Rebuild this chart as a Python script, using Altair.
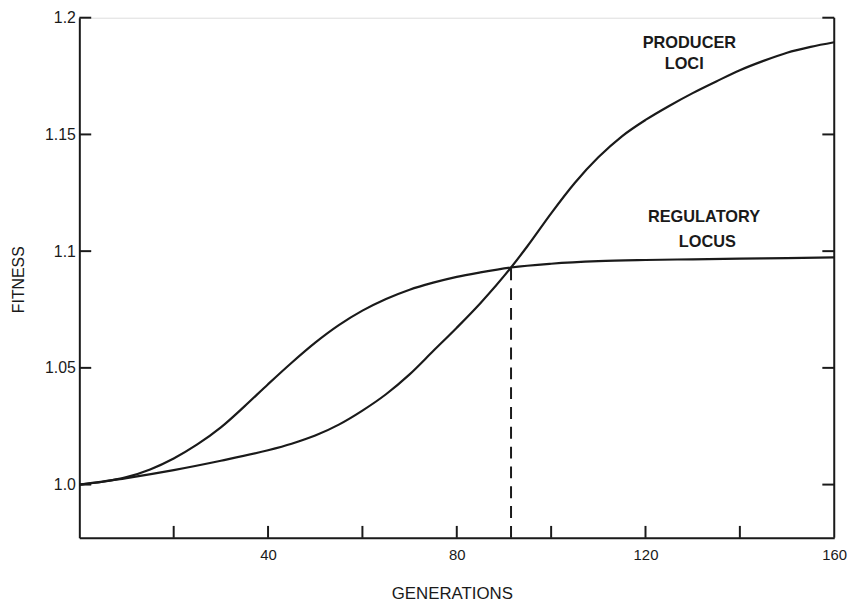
import altair as alt
import pandas as pd

# ---- data ----
reg_gen = [0, 5, 10, 15, 20, 25, 30, 35, 40, 45, 50, 55, 60, 65, 70, 75, 80, 85, 91.5,
           100, 110, 120, 130, 140, 150, 160]
reg_fit = [1.000, 1.0012, 1.0032, 1.0065, 1.0112, 1.0172, 1.0245, 1.0335, 1.043, 1.0522,
           1.0608, 1.0683, 1.0745, 1.0795, 1.0835, 1.0865, 1.089, 1.0909, 1.093,
           1.0946, 1.0957, 1.0962, 1.0965, 1.0968, 1.097, 1.0973]

prod_gen = [0, 10, 20, 30, 40, 45, 50, 55, 60, 65, 70, 75, 80, 85, 91.5, 95,
            100, 105, 110, 115, 120, 125, 130, 135, 140, 145, 150, 155, 160]
prod_fit = [1.000, 1.0028, 1.0062, 1.0102, 1.0147, 1.0175, 1.021, 1.0257, 1.0317,
            1.0387, 1.0472, 1.0572, 1.0672, 1.0777, 1.093, 1.1022,
            1.1162, 1.1292, 1.1402, 1.1492, 1.1562, 1.1622, 1.1677, 1.1727, 1.1775,
            1.1815, 1.185, 1.1875, 1.1895]

x_label_values = [40, 80, 120, 160]
x_tick_values = [20, 40, 60, 80, 100, 120, 140]
y_tick_values = [1.0, 1.05, 1.1, 1.15, 1.2]
x_domain = [0, 160]
y_domain = [0.9772, 1.2]

crossing_gen = 91.5
crossing_fit = 1.093

label_text = ["PRODUCER", "LOCI", "REGULATORY", "LOCUS"]
label_gen = [129.3, 128.2, 132.4, 133.1]
label_fit = [1.1892, 1.1803, 1.1145, 1.1039]

# ---- styling ----
INK = "#1a1a1a"
FONT = "Liberation Sans"
W, H = 762, 525
TICK = 12

curves = pd.DataFrame({
    "gen": reg_gen + prod_gen,
    "fit": reg_fit + prod_fit,
    "series": ["Regulatory locus"] * len(reg_gen) + ["Producer loci"] * len(prod_gen),
})

xs = alt.Scale(domain=x_domain, nice=False, zero=False)
ys = alt.Scale(domain=y_domain, nice=False, zero=False)

lines = alt.Chart(curves).mark_line(
    color=INK, strokeWidth=2.2, interpolate="monotone"
).encode(
    x=alt.X("gen:Q", scale=xs, axis=alt.Axis(
        values=x_label_values, title="GENERATIONS", grid=False, ticks=False,
        domainColor=INK, domainWidth=2, labelFont=FONT, labelFontSize=15,
        labelColor=INK, labelPadding=10, labelFlush=False,
        titleFont=FONT, titleFontSize=17, titleFontWeight="normal", titleColor=INK,
        titleX=376, titleY=56, titleAlign="center", titleBaseline="middle")),
    y=alt.Y("fit:Q", scale=ys, axis=alt.Axis(
        values=y_tick_values, title="FITNESS", grid=False, ticks=False,
        domainColor=INK, domainWidth=2, labelFont=FONT, labelFontSize=16,
        labelColor=INK, labelPadding=4, labelFlush=False, format=".2~f",
        labelExpr="datum.value == 1 ? '1.0' : datum.label",
        titleFont=FONT, titleFontSize=16, titleFontWeight="normal", titleColor=INK,
        titleAngle=270, titleX=-61, titleY=264, titleAlign="center",
        titleBaseline="middle")),
    detail="series:N",
)

# right-hand frame line
right_frame = alt.Chart(pd.DataFrame({
    "gen": [x_domain[1]], "fit": [y_domain[0]], "fit2": [y_domain[1]]
})).mark_rule(color=INK, strokeWidth=2).encode(
    x=alt.X("gen:Q", scale=xs), y=alt.Y("fit:Q", scale=ys), y2="fit2:Q")

# inward ticks
bottom_ticks = alt.Chart(pd.DataFrame({"gen": x_tick_values})).mark_rule(
    color=INK, strokeWidth=2).encode(
    x=alt.X("gen:Q", scale=xs), y=alt.value(H), y2=alt.value(H - TICK))

left_ticks = alt.Chart(pd.DataFrame({"fit": y_tick_values})).mark_rule(
    color=INK, strokeWidth=2).encode(
    y=alt.Y("fit:Q", scale=ys), x=alt.value(0), x2=alt.value(TICK))

right_ticks = alt.Chart(pd.DataFrame({"fit": y_tick_values})).mark_rule(
    color=INK, strokeWidth=2).encode(
    y=alt.Y("fit:Q", scale=ys), x=alt.value(W - TICK), x2=alt.value(W))

# dashed drop line at the crossing
dashed = alt.Chart(pd.DataFrame({
    "gen": [crossing_gen], "fit": [y_domain[0]], "fit2": [crossing_fit]
})).mark_rule(color=INK, strokeWidth=2, strokeDash=[12, 8]).encode(
    x=alt.X("gen:Q", scale=xs), y=alt.Y("fit:Q", scale=ys), y2="fit2:Q")

labels = alt.Chart(pd.DataFrame({
    "gen": label_gen, "fit": label_fit, "text": label_text
})).mark_text(
    font=FONT, fontSize=16.5, fontWeight="bold", color=INK,
    align="center", baseline="middle"
).encode(x=alt.X("gen:Q", scale=xs), y=alt.Y("fit:Q", scale=ys), text="text:N")

chart = alt.layer(
    lines, right_frame, bottom_ticks, left_ticks, right_ticks, dashed, labels
).properties(
    width=W, height=H,
    autosize=alt.AutoSizeParams(type="none"),
    padding={"left": 72, "top": 7, "right": 24, "bottom": 62},
).configure_view(stroke=None).configure(background="white")

chart.save("out.html", embed_options={"renderer": "svg", "actions": False})
